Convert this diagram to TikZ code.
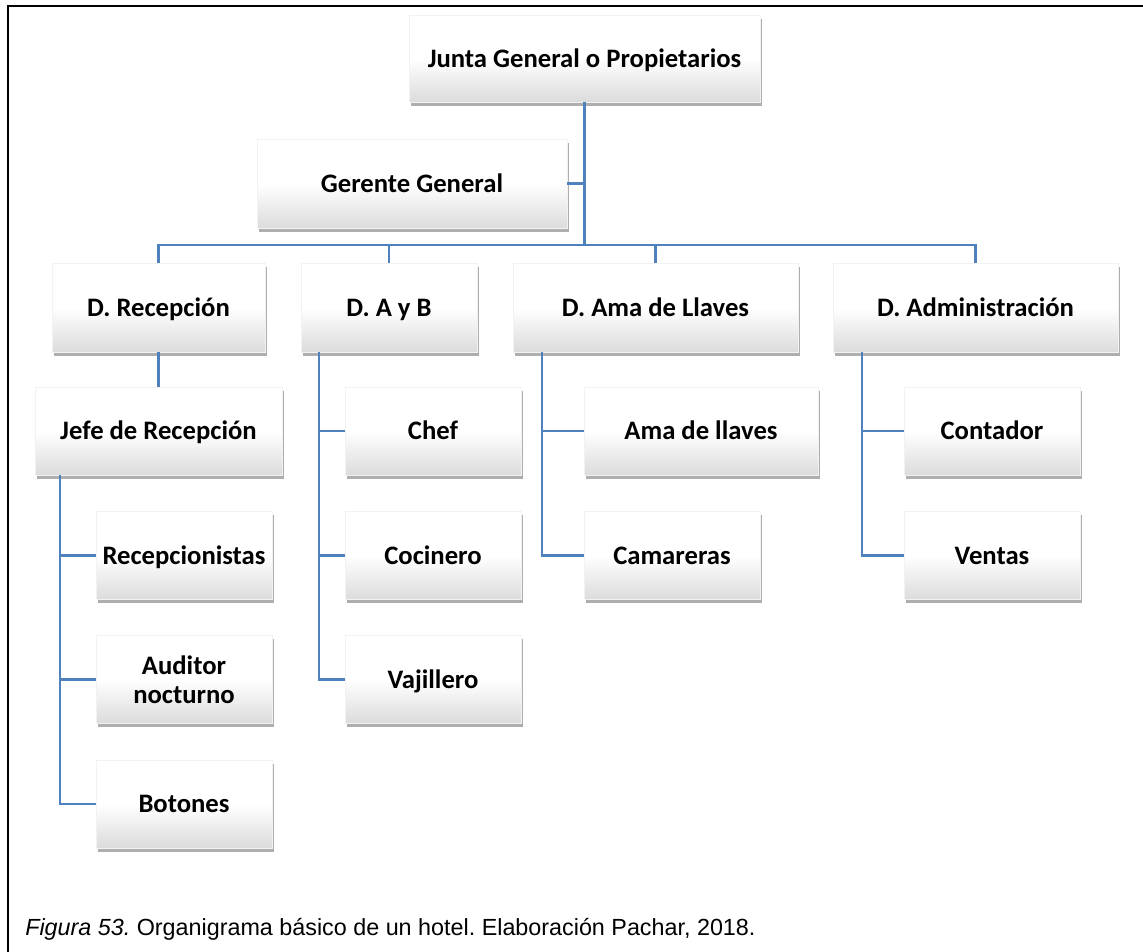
\documentclass[tikz,border=0pt]{standalone}
\usepackage{fontspec}
\setmainfont{Carlito}
\newfontfamily\capfont{Liberation Sans}
\usetikzlibrary{shadows,calc}
\definecolor{connblue}{RGB}{79,129,189}
\begin{document}
\frenchspacing
\begin{tikzpicture}[x=0.75pt,y=-0.75pt,
  orgbox/.style={rectangle, inner sep=0pt, align=center,
    font=\fontsize{20}{22}\selectfont\bfseries,
    text height=16pt, text depth=3pt,
    top color=white, bottom color=black!14, middle color=white,
    draw=black!5, line width=0.3pt,
    drop shadow={shadow xshift=1.2pt, shadow yshift=-2.8pt, opacity=0.45, fill=black!70}},
  conn/.style={draw=connblue, line width=1.6pt}]
\useasboundingbox (0,0) rectangle (1143,952);
\draw[line width=1.5pt] (8,952) -- (8,6) -- (1143,6);

% level 0/1
\node[orgbox, minimum width=263.25pt, minimum height=65.25pt] (J) at (584.5,58.5) {Junta General o Propietarios};
\node[orgbox, minimum width=232.5pt, minimum height=66.75pt] (G) at (412,183.5) {Gerente General};

% level 2
\node[orgbox, minimum width=159.75pt, minimum height=66.75pt] (R) at (158.5,307.5) {D. Recepción};
\node[orgbox, minimum width=132pt, minimum height=66.75pt] (AB) at (389,307.5) {D. A y B};
\node[orgbox, minimum width=213.75pt, minimum height=66.75pt] (AL) at (655.5,307.5) {D. Ama de Llaves};
\node[orgbox, minimum width=213.75pt, minimum height=66.75pt] (AD) at (975.5,307.5) {D. Administración};

% level 3
\node[orgbox, minimum width=185.25pt, minimum height=66pt] (Jefe) at (158.5,431) {Jefe de Recepción};
\node[orgbox, minimum width=132pt, minimum height=66pt] (Rec) at (184,555.5) {Recepcionistas};
\node[orgbox, minimum width=132pt, minimum height=66pt, text height=, text depth=] (Aud) at (184,679.5) {Auditor\\nocturno};
\node[orgbox, minimum width=132pt, minimum height=66pt] (Bot) at (184,804) {Botones};

\node[orgbox, minimum width=132pt, minimum height=66pt] (Chef) at (433,431) {Chef};
\node[orgbox, minimum width=132pt, minimum height=66pt] (Coc) at (433,555.5) {Cocinero};
\node[orgbox, minimum width=132pt, minimum height=66pt] (Vaj) at (433,679.5) {Vajillero};

\node[orgbox, minimum width=175.5pt, minimum height=66pt] (Ama) at (701,431) {Ama de llaves};
\node[orgbox, minimum width=132pt, minimum height=66pt] (Cam) at (672,555.5) {Camareras};

\node[orgbox, minimum width=132pt, minimum height=66pt] (Cont) at (992,431) {Contador};
\node[orgbox, minimum width=132pt, minimum height=66pt] (Ven) at (992,555.5) {Ventas};

% connectors
\coordinate (bus) at (0,245);
\coordinate (jx) at (60,0);
\coordinate (abx) at (319,0);
\coordinate (alx) at (542,0);
\coordinate (adx) at (862,0);

\draw[conn] (J.south) -- (J.south |- bus);
\draw[conn] (G.east) -- (G.east -| J.south);
\draw[conn] (R.north) -- (R.north |- bus) -- (AD.north |- bus) -- (AD.north);
\draw[conn] (AB.north) -- (AB.north |- bus);
\draw[conn] (AL.north) -- (AL.north |- bus);

\draw[conn] (R.south) -- (Jefe.north);
\draw[conn] (Jefe.south -| jx) |- (Bot.west);
\draw[conn] (Rec.west) -- (Rec.west -| jx);
\draw[conn] (Aud.west) -- (Aud.west -| jx);

\draw[conn] (AB.south -| abx) |- (Vaj.west);
\draw[conn] (Chef.west) -- (Chef.west -| abx);
\draw[conn] (Coc.west) -- (Coc.west -| abx);

\draw[conn] (AL.south -| alx) |- (Cam.west);
\draw[conn] (Ama.west) -- (Ama.west -| alx);

\draw[conn] (AD.south -| adx) |- (Ven.west);
\draw[conn] (Cont.west) -- (Cont.west -| adx);

% caption
\node[anchor=base west, inner sep=0pt, font=\capfont\fontsize{17.5}{19}\selectfont] (cap) at (25,935)
  {\textit{Figura 53.} Organigrama básico de un hotel. Elaboración Pachar, 2018.};
\end{tikzpicture}
\end{document}
